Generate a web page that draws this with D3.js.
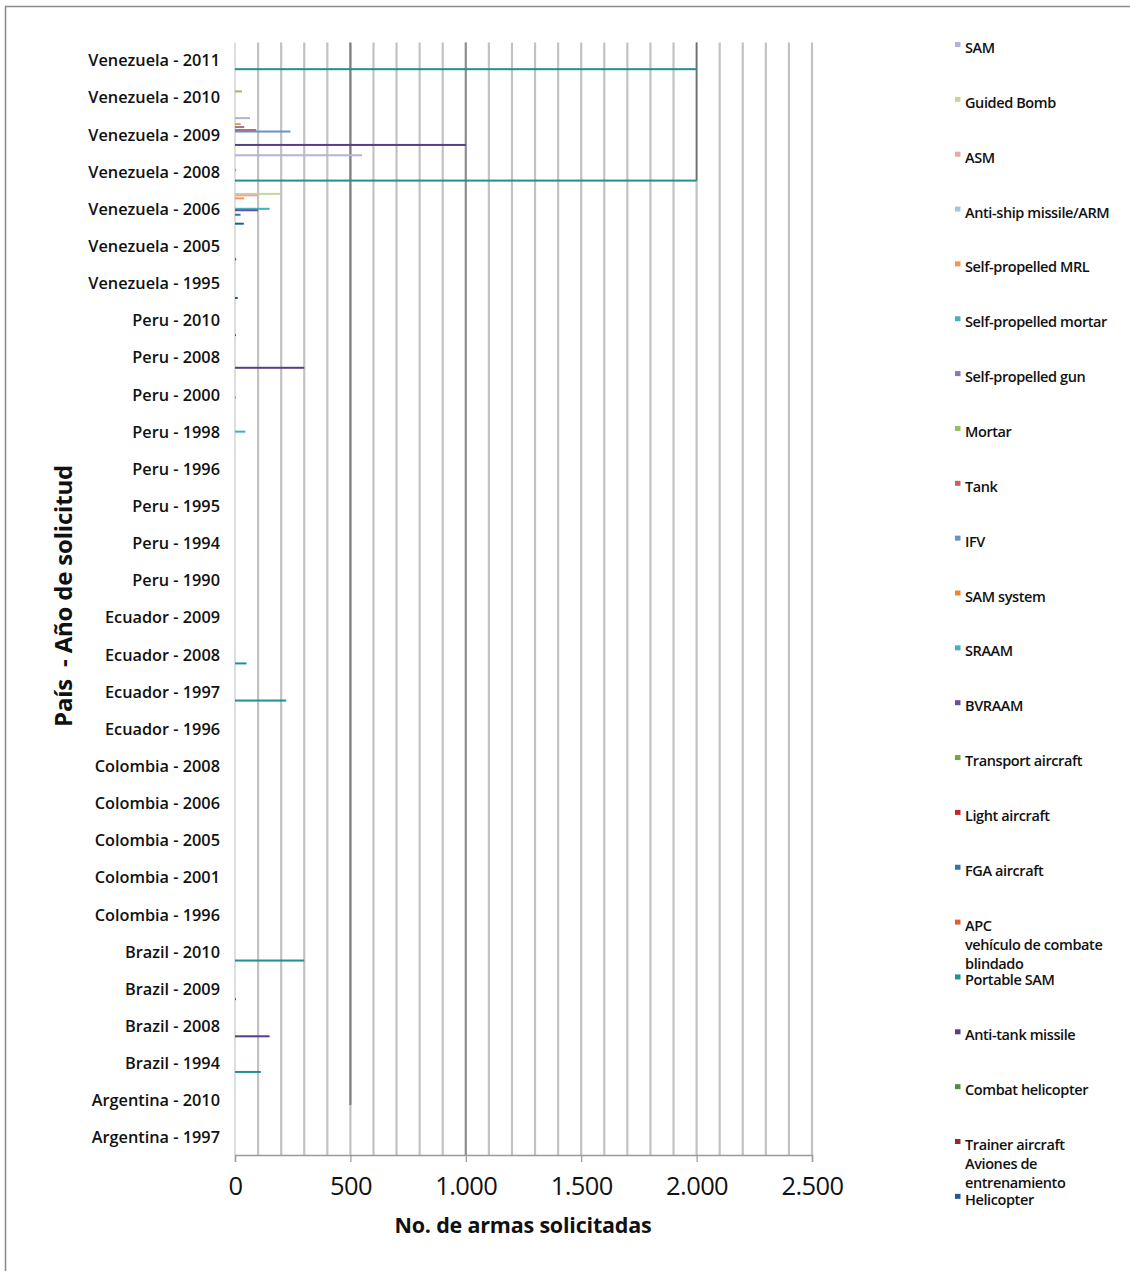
<!DOCTYPE html>
<html><head><meta charset="utf-8">
<script src="https://cdn.jsdelivr.net/npm/d3@7"></script>
<style>body{margin:0;background:#fff} svg{display:block}</style>
</head><body>
<svg id="c" width="1130" height="1271"></svg>
<script>
const categories = [
  "Venezuela - 2011","Venezuela - 2010","Venezuela - 2009","Venezuela - 2008","Venezuela - 2006",
  "Venezuela - 2005","Venezuela - 1995","Peru - 2010","Peru - 2008","Peru - 2000","Peru - 1998",
  "Peru - 1996","Peru - 1995","Peru - 1994","Peru - 1990","Ecuador - 2009","Ecuador - 2008",
  "Ecuador - 1997","Ecuador - 1996","Colombia - 2008","Colombia - 2006","Colombia - 2005",
  "Colombia - 2001","Colombia - 1996","Brazil - 2010","Brazil - 2009","Brazil - 2008",
  "Brazil - 1994","Argentina - 2010","Argentina - 1997"
];
const seriesNames = [
  "SAM","Guided Bomb","ASM","Anti-ship missile/ARM","Self-propelled MRL","Self-propelled mortar",
  "Self-propelled gun","Mortar","Tank","IFV","SAM system","SRAAM","BVRAAM","Transport aircraft",
  "Light aircraft","FGA aircraft","APC","Portable SAM","Anti-tank missile","Combat helicopter",
  "Trainer aircraft","Helicopter"
];
const seriesColors = [
  "#b4b4d2","#c4d79b","#e8a8a8","#a9c0e0","#f79646","#4bacc6",
  "#8c76b3","#9bbb59","#d35a5e","#6a8fca","#f58230","#3eb1c2",
  "#6d4c9c","#6fa843","#c4262b","#2e73b8","#e55d2e","#1f9095",
  "#5a3d87","#4e8f3a","#a3222a","#1f5a9a"
];
const legendLabels = [
  ["SAM"],["Guided Bomb"],["ASM"],["Anti-ship missile/ARM"],["Self-propelled MRL"],
  ["Self-propelled mortar"],["Self-propelled gun"],["Mortar"],["Tank"],["IFV"],["SAM system"],
  ["SRAAM"],["BVRAAM"],["Transport aircraft"],["Light aircraft"],["FGA aircraft"],
  ["APC","vehículo de combate","blindado"],["Portable SAM"],["Anti-tank missile"],
  ["Combat helicopter"],["Trainer aircraft","Aviones de","entrenamiento"],["Helicopter"]
];
const xTickValues = [0,500,1000,1500,2000,2500];
const xTickLabels = ["0","500","1.000","1.500","2.000","2.500"];

// series values: [category, number of weapons]
const samVals = [["Venezuela - 2009",65],["Venezuela - 2008",550]];
const guidedBombVals = [["Venezuela - 2006",195]];
const asmVals = [["Venezuela - 2006",100]];
const antiShipVals = [];
const spMrlVals = [["Venezuela - 2009",25],["Venezuela - 2006",40]];
const spMortarVals = [];
const spGunVals = [["Venezuela - 2009",40]];
const mortarVals = [["Venezuela - 2010",30]];
const tankVals = [["Venezuela - 2009",92]];
const ifvVals = [["Venezuela - 2009",240]];
const samSystemVals = [["Venezuela - 2008",5]];
const sraamVals = [["Venezuela - 2006",150],["Peru - 1998",45]];
const bvraamVals = [["Venezuela - 2006",100]];
const transportVals = [["Peru - 2000",4]];
const lightAircraftVals = [];
const fgaVals = [["Venezuela - 2006",24]];
const apcVals = [];
const portableSamVals = [["Venezuela - 2011",2000],["Venezuela - 2008",2000],["Ecuador - 2008",50],
  ["Ecuador - 1997",222],["Brazil - 2010",300],["Brazil - 1994",112]];
const antiTankVals = [["Venezuela - 2009",1000],["Peru - 2008",300],["Brazil - 2009",4],["Brazil - 2008",150]];
const combatHeliVals = [];
const trainerVals = [["Venezuela - 2005",5]];
const helicopterVals = [["Venezuela - 2006",38],["Venezuela - 1995",12],["Peru - 2010",4]];

const seriesValues = [samVals,guidedBombVals,asmVals,antiShipVals,spMrlVals,spMortarVals,spGunVals,
  mortarVals,tankVals,ifvVals,samSystemVals,sraamVals,bvraamVals,transportVals,lightAircraftVals,
  fgaVals,apcVals,portableSamVals,antiTankVals,combatHeliVals,trainerVals,helicopterVals];

const bars = [];
seriesValues.forEach((arr, i) => arr.forEach(([cat, v]) => bars.push({series: seriesNames[i], color: seriesColors[i], cat, v})));

const svg = d3.select("#c");
const plotTop = 42.5, plotBottom = 1156.7, plotLeft = 235, plotRight = 812;
const FONT = "Open Sans, sans-serif";

// frame
svg.append("rect").attr("x",5.5).attr("y",6.5).attr("width",1200).attr("height",1400)
  .attr("fill","none").attr("stroke","#8a8a8a").attr("stroke-width",1.5);

const x = d3.scaleLinear().domain([0,2500]).range([plotLeft, plotRight]);
const y0 = d3.scaleBand().domain(categories).range([plotTop, plotBottom]);
const y1 = d3.scaleBand().domain(seriesNames).range([0.6, 0.6 + 22*1.49]);

// gridlines every 100
const g = svg.append("g");
g.selectAll("line.grid").data(x.ticks(25).filter(d => d > 0)).enter().append("line")
  .attr("x1", d => x(d)).attr("x2", d => x(d)).attr("y1", plotTop).attr("y2", 1155)
  .attr("stroke", "#c2c2c2").attr("stroke-width", 2.2);
// darker major lines
g.append("line").attr("x1", x(500)).attr("x2", x(500)).attr("y1", plotTop).attr("y2", 1105)
  .attr("stroke", "#7c7c7c").attr("stroke-width", 2);
g.append("line").attr("x1", x(1000)).attr("x2", x(1000)).attr("y1", plotTop).attr("y2", 1155)
  .attr("stroke", "#8e8e8e").attr("stroke-width", 2);
// dark drop line at max value down to lowest bar reaching it
const maxV = d3.max(bars, d => d.v);
const lowest = d3.max(bars.filter(d => d.v === maxV), d => y0(d.cat) + y1(d.series) + y1.bandwidth()/2);
g.append("line").attr("x1", x(maxV)).attr("x2", x(maxV)).attr("y1", plotTop).attr("y2", lowest)
  .attr("stroke", "#6f6f6f").attr("stroke-width", 1.6);

// y axis line
svg.append("line").attr("x1", plotLeft).attr("x2", plotLeft).attr("y1", plotTop).attr("y2", 1155)
  .attr("stroke", "#c8c8c8").attr("stroke-width", 1.2);

// bars
svg.append("g").selectAll("rect").data(bars).enter().append("rect")
  .attr("x", x(0))
  .attr("y", d => y0(d.cat) + y1(d.series) + y1.bandwidth()/2 - 1)
  .attr("width", d => x(d.v) - x(0))
  .attr("height", 2)
  .attr("fill", d => d.color);

// x axis
const xAxis = svg.append("g").attr("transform", `translate(0,1155)`)
  .call(d3.axisBottom(x).tickValues(xTickValues).tickFormat((d,i) => xTickLabels[i]).tickSize(7).tickPadding(15));
xAxis.select(".domain").attr("stroke", "#9a9a9a").attr("stroke-width", 1.5);
xAxis.selectAll(".tick line").attr("stroke", "#9a9a9a").attr("stroke-width", 1.2);
xAxis.selectAll(".tick text").attr("font-family", FONT).attr("font-size", 25.5)
  .attr("fill", "#111").attr("letter-spacing", "-0.6px");

// category labels
const yAxis = svg.append("g").attr("transform", `translate(${plotLeft},0)`)
  .call(d3.axisLeft(y0).tickSize(0).tickPadding(15));
yAxis.select(".domain").remove();
yAxis.selectAll(".tick text").attr("font-family", FONT).attr("font-size", 16.3)
  .attr("font-weight", 600).attr("fill", "#111");

// axis titles
svg.append("text").attr("x", 523).attr("y", 1233).attr("text-anchor", "middle")
  .attr("font-family", FONT).attr("font-weight", 700).attr("font-size", 21.5)
  .attr("letter-spacing", "-0.2px").attr("fill", "#111").text("No. de armas solicitadas");
svg.append("text").attr("transform", "translate(72,596) rotate(-90)").attr("text-anchor", "middle")
  .attr("font-family", FONT).attr("font-weight", 700).attr("font-size", 24)
  .attr("letter-spacing", "-0.2px").attr("fill", "#111").style("white-space", "pre")
  .text("País  - Año de solicitud");

// legend
const legend = svg.append("g");
const step = 54.85;
seriesNames.forEach((name, i) => {
  const cy = 48 + i * step;
  legend.append("rect").attr("x", 955).attr("y", cy - 6).attr("width", 5.5).attr("height", 5)
    .attr("fill", seriesColors[i]);
  legendLabels[i].forEach((line, j) => {
    legend.append("text").attr("x", 965).attr("y", cy + 5 + j * 19)
      .attr("font-family", FONT).attr("font-size", 14.5).attr("font-weight", 600)
      .attr("letter-spacing", "-0.4px").attr("fill", "#111").text(line);
  });
});
</script>
</body></html>
